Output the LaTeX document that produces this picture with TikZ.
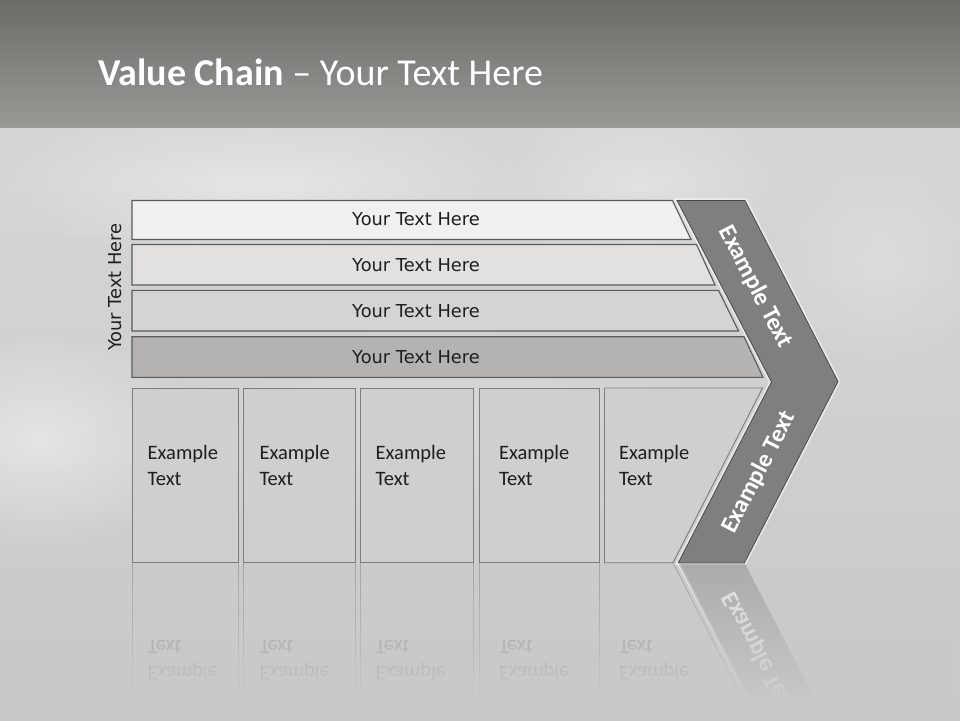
\documentclass[tikz,border=0pt]{standalone}
\usepackage{fontspec}
\setmainfont{Carlito}
\newfontfamily\dvfont{DejaVu Sans}
\usetikzlibrary{fadings}
\tikzfading[name=fadein, top color=transparent!100, bottom color=transparent!0]
\tikzfading[name=softblob, inner color=transparent!0, outer color=transparent!100]
\definecolor{bandtop}{RGB}{108,107,104}
\definecolor{bandbot}{RGB}{154,153,149}
\definecolor{bgtop}{RGB}{214,214,214}
\definecolor{bgbot}{RGB}{201,201,201}
\definecolor{barA}{RGB}{240,240,240}
\definecolor{barB}{RGB}{226,225,223}
\definecolor{barC}{RGB}{212,212,212}
\definecolor{barD}{RGB}{180,179,177}
\definecolor{bardraw}{RGB}{90,90,90}
\definecolor{boxfill}{RGB}{207,207,207}
\definecolor{boxdraw}{RGB}{125,125,125}
\definecolor{chevfill}{RGB}{127,127,127}
\definecolor{chevdraw}{RGB}{75,75,75}
\definecolor{txtdark}{RGB}{30,30,30}
\begin{document}
\begin{tikzpicture}[x=1pt,y=-1pt,
  barshape/.style={draw=bardraw, line width=1.1pt},
  bartext/.style={font=\dvfont\fontsize{17.8}{21}\selectfont, text=txtdark, inner sep=0pt},
  boxshape/.style={fill=boxfill, draw=boxdraw, line width=0.9pt},
  boxtext/.style={font=\fontsize{20.5}{25.7}\selectfont, text=txtdark, align=left, anchor=base west, inner sep=0pt},
  chevtext/.style={font=\bfseries\fontsize{24.5}{28}\selectfont, text=white, inner sep=0pt},
  blob/.style={fill=white, path fading=softblob}
]
\useasboundingbox (0,0) rectangle (960,720);
% background
\fill[top color=bgtop, bottom color=bgbot] (0,120) rectangle (960,720);
\fill[blob, opacity=0.45] (40,440) ellipse [x radius=170, y radius=110];
\fill[blob, opacity=0.40] (260,185) ellipse [x radius=280, y radius=75];
\fill[blob, opacity=0.30] (640,185) ellipse [x radius=150, y radius=80];
\fill[blob, opacity=0.22] (880,260) ellipse [x radius=120, y radius=110];
\fill[blob, opacity=0.20] (430,430) ellipse [x radius=320, y radius=110];
\fill[top color=bandtop, bottom color=bandbot] (0,0) rectangle (960,127);
% title
\node[anchor=base west, inner sep=0pt, text=white, font=\fontsize{38}{44}\selectfont] (title) at (98,85) {\textbf{Value Chain} – Your Text Here};
% bars
\filldraw[barshape, fill=barA] (132,200.5) -- (672.5,200.5) -- (691,239.5) -- (132,239.5) -- cycle;
\filldraw[barshape, fill=barB] (132,244.5) -- (696.5,244.5) -- (715,285) -- (132,285) -- cycle;
\filldraw[barshape, fill=barC] (132,290.3) -- (718.5,290.3) -- (738.5,331) -- (132,331) -- cycle;
\filldraw[barshape, fill=barD] (132,336.7) -- (744,336.7) -- (763,377.3) -- (132,377.3) -- cycle;
\node[bartext] (bar1) at (416,219) {Your Text Here};
\node[bartext] (bar2) at (416,265.5) {Your Text Here};
\node[bartext] (bar3) at (416,311) {Your Text Here};
\node[bartext] (bar4) at (416,357) {Your Text Here};
\node[bartext, rotate=90] (side) at (115,287) {Your Text Here};
% boxes
\filldraw[boxshape] (132.5,388) rectangle (238.3,562.7);
\filldraw[boxshape] (243.3,388) rectangle (355.5,562.7);
\filldraw[boxshape] (360.5,388) rectangle (473.3,562.7);
\filldraw[boxshape] (479.5,388) rectangle (599.3,562.7);
\filldraw[boxshape] (604.5,388) -- (762.5,388) -- (673,562.7) -- (604.5,562.7) -- cycle;
\node[boxtext] (t1) at (147.5,485) {Example\\Text};
\node[boxtext] (t2) at (259.3,485) {Example\\Text};
\node[boxtext] (t3) at (375.5,485) {Example\\Text};
\node[boxtext] (t4) at (498.8,485) {Example\\Text};
\node[boxtext] (t5) at (618.8,485) {Example\\Text};
% chevron
\draw[white, opacity=0.5, line width=4.5pt, line join=miter] (677,200.5) -- (745,200.5) -- (838,381.5) -- (744.5,562.7) -- (678.3,562.7) -- (771.5,382) -- cycle;
\filldraw[fill=chevfill, draw=chevdraw, line width=0.8pt] (677,200.5) -- (745,200.5) -- (838,381.5) -- (744.5,562.7) -- (678.3,562.7) -- (771.5,382) -- cycle;
\node[chevtext, rotate=-62.7] (ch1) at (755.5,287) {Example Text};
\node[chevtext, rotate=62.7] (ch2) at (759,472.5) {Example Text};
% reflection
\begin{scope}
\clip (0,563.2) rectangle (960,704);
\begin{scope}[shift={(0,1125.4)}, yscale=-1, transform shape]
  \draw[boxdraw, opacity=0.5, line width=0.9pt] (132.5,388) rectangle (238.3,562.7);
  \draw[boxdraw, opacity=0.5, line width=0.9pt] (243.3,388) rectangle (355.5,562.7);
  \draw[boxdraw, opacity=0.5, line width=0.9pt] (360.5,388) rectangle (473.3,562.7);
  \draw[boxdraw, opacity=0.5, line width=0.9pt] (479.5,388) rectangle (599.3,562.7);
  \draw[boxdraw, opacity=0.5, line width=0.9pt] (604.5,388) -- (762.5,388) -- (673,562.7) -- (604.5,562.7);
  \node[boxtext, opacity=0.3] (r1) at (147.5,485) {Example\\Text};
  \node[boxtext, opacity=0.3] (r2) at (259.3,485) {Example\\Text};
  \node[boxtext, opacity=0.3] (r3) at (375.5,485) {Example\\Text};
  \node[boxtext, opacity=0.3] (r4) at (498.8,485) {Example\\Text};
  \node[boxtext, opacity=0.3] (r5) at (618.8,485) {Example\\Text};
  \draw[white, opacity=0.45, line width=3pt] (678.3,562.7) -- (771.5,382);
  \fill[chevfill, opacity=0.42] (678.3,562.7) -- (744.5,562.7) -- (838,381.5) -- (771.5,382) -- cycle;
  \node[chevtext, rotate=62.7, opacity=0.7] (rch) at (759,472.5) {Example Text};
\end{scope}
\end{scope}
\fill[bgbot, path fading=fadein] (0,563.6) rectangle (960,704);
\fill[bgbot] (0,703.5) rectangle (960,720);
\end{tikzpicture}
\end{document}
